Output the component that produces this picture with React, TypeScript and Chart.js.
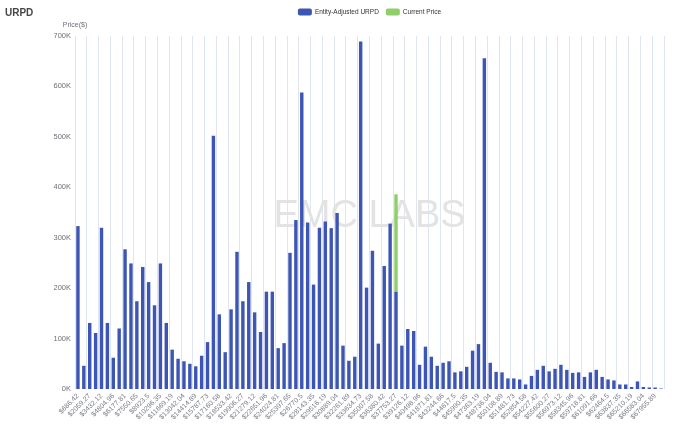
import React, { useEffect, useRef } from 'react';
import { Chart, registerables } from 'chart.js';

Chart.register(...registerables);

const chartTitle = 'URPD';
const yAxisName = 'Price($)';
const watermarkText = 'EMC LABS';
const seriesNames = ['Entity-Adjusted URPD', 'Current Price'];

const priceLabels = [
  '$686.42', '$1372.85', '$2059.27', '$2745.69', '$3432.12', '$4118.54', '$4804.96', '$5491.38', '$6177.81', '$6864.23',
  '$7550.65', '$8237.08', '$8923.5', '$9609.92', '$10296.35', '$10982.77', '$11669.19', '$12355.62', '$13042.04', '$13728.46',
  '$14414.89', '$15101.31', '$15787.73', '$16474.15', '$17160.58', '$17847', '$18533.42', '$19219.85', '$19906.27', '$20592.69',
  '$21279.12', '$21965.54', '$22651.96', '$23338.39', '$24024.81', '$24711.23', '$25397.65', '$26084.08', '$26770.5', '$27456.92',
  '$28143.35', '$28829.77', '$29516.19', '$30202.62', '$30889.04', '$31575.46', '$32261.89', '$32948.31', '$33634.73', '$34321.16',
  '$35007.58', '$35694', '$36380.42', '$37066.85', '$37753.27', '$38439.69', '$39126.12', '$39812.54', '$40498.96', '$41185.39',
  '$41871.81', '$42558.23', '$43244.66', '$43931.08', '$44617.5', '$45303.92', '$45990.35', '$46676.77', '$47363.19', '$48049.62',
  '$48736.04', '$49422.46', '$50108.89', '$50795.31', '$51481.73', '$52168.16', '$52854.58', '$53541', '$54227.42', '$54913.85',
  '$55600.27', '$56286.69', '$56973.12', '$57659.54', '$58345.96', '$59032.39', '$59718.81', '$60405.23', '$61091.66', '$61778.08',
  '$62464.5', '$63150.93', '$63837.35', '$64523.77', '$65210.19', '$65896.62', '$66583.04', '$67269.46', '$67955.89', '$68642.31',
];

const urpdValues = [
  323000, 46000, 131000, 111000, 320000, 131000, 62000, 120000, 277000, 249000,
  174000, 242000, 212000, 166000, 249000, 131000, 78000, 60000, 55000, 50000,
  45000, 66000, 93000, 502000, 148000, 73000, 158000, 272000, 174000, 212000,
  152000, 113000, 193000, 193000, 81000, 91000, 270000, 335000, 588000, 330000,
  207000, 320000, 332000, 319000, 349000, 86000, 56000, 64000, 689000, 201000,
  274000, 90000, 244000, 328000, 193000, 86000, 119000, 115000, 48000, 84000,
  64000, 46000, 52000, 55000, 33000, 35000, 44000, 76000, 89000, 656000,
  52000, 34000, 33000, 21000, 21000, 19000, 9000, 26000, 38000, 46000,
  35000, 40000, 48000, 38000, 32000, 33000, 24000, 33000, 38000, 24000,
  19000, 17000, 9000, 9000, 4000, 15000, 4000, 3000, 3000, 1000,
];

const currentPriceIndex = 54;
const currentPriceValue = 193000;

const yMax = 700000;
const yStep = 100000;

const BLUE = '#3d56b5';
const GREEN = '#8fcf6b';
const FONT = '"Liberation Sans", Arial, Helvetica, sans-serif';

const decorPlugin = {
  id: 'decor',
  beforeDatasetsDraw(chart: any) {
    const { ctx, chartArea } = chart;
    ctx.save();
    ctx.font = `38px ${FONT}`;
    ctx.fillStyle = '#e3e3e3';
    ctx.textAlign = 'center';
    ctx.textBaseline = 'middle';
    ctx.fillText(watermarkText, (chartArea.left + chartArea.right) / 2, (chartArea.top + chartArea.bottom) / 2 + 4);
    ctx.restore();
  },
  afterDraw(chart: any) {
    const { ctx, chartArea } = chart;
    ctx.save();
    ctx.font = `bold 10px ${FONT}`;
    ctx.fillStyle = '#464646';
    ctx.textAlign = 'left';
    ctx.textBaseline = 'middle';
    ctx.fillText(chartTitle, 5, 13);
    ctx.font = `7px ${FONT}`;
    ctx.fillStyle = '#6E7079';
    ctx.textAlign = 'center';
    ctx.fillText(yAxisName, chartArea.left, 25);
    const fs = 6.5;
    ctx.font = `${fs}px ${FONT}`;
    const rectW = 14, rectH = 7, gap = 3, itemGap = 7;
    const items = chart.data.datasets.map((d: any) => ({ label: d.label, color: d.backgroundColor }));
    const widths = items.map((it: any) => rectW + gap + ctx.measureText(it.label).width);
    const total = widths.reduce((a: number, b: number) => a + b, 0) + itemGap * (items.length - 1);
    let x = (chartArea.left + chartArea.right) / 2 - total / 2;
    const cy = 12;
    items.forEach((it: any, i: number) => {
      ctx.fillStyle = it.color;
      ctx.beginPath();
      if (ctx.roundRect) ctx.roundRect(x, cy - rectH / 2, rectW, rectH, 2);
      else ctx.rect(x, cy - rectH / 2, rectW, rectH);
      ctx.fill();
      ctx.fillStyle = '#333';
      ctx.textAlign = 'left';
      ctx.textBaseline = 'middle';
      ctx.fillText(it.label, x + rectW + gap, cy + 0.5);
      x += widths[i] + itemGap;
    });
    ctx.restore();
  },
};

export default function App() {
  const ref = useRef<HTMLCanvasElement | null>(null);

  useEffect(() => {
    if (!ref.current) return;
    const currentData = urpdValues.map((_, i) => (i === currentPriceIndex ? currentPriceValue : null));
    const chart = new Chart(ref.current, {
      type: 'bar',
      data: {
        labels: priceLabels,
        datasets: [
          {
            label: seriesNames[0],
            data: urpdValues,
            backgroundColor: BLUE,
            barPercentage: 0.58,
            categoryPercentage: 1,
          },
          {
            label: seriesNames[1],
            data: currentData as any,
            backgroundColor: GREEN,
            barPercentage: 0.58,
            categoryPercentage: 1,
          },
        ],
      },
      options: {
        responsive: false,
        animation: false,
        devicePixelRatio: 1,
        layout: { padding: { left: 0, right: 36, top: 36, bottom: 0 } },
        plugins: {
          legend: { display: false },
          title: { display: false },
          tooltip: { enabled: false },
        },
        scales: {
          x: {
            stacked: true,
            afterFit: (scale: any) => { scale.height = 35; },
            grid: {
              drawTicks: false,
              offset: true,
              color: (ctx: any) => (ctx.index === undefined || ctx.index % 2 === 0 ? '#E0E6F1' : 'rgba(0,0,0,0)'),
              lineWidth: 1,
            },
            border: { display: false },
            ticks: {
              autoSkip: false,
              maxRotation: 45,
              minRotation: 45,
              padding: 3,
              color: '#7a7d86',
              font: { size: 7, family: FONT },
              callback: (_v: any, i: number) => (i % 2 === 0 ? priceLabels[i] : ''),
            },
          },
          y: {
            stacked: true,
            min: 0,
            max: yMax,
            afterFit: (scale: any) => { scale.width = 75; },
            grid: { display: false, drawTicks: false },
            border: { display: false },
            ticks: {
              stepSize: yStep,
              padding: 4,
              color: '#6E7079',
              font: { size: 7.5, family: FONT },
              callback: (v: any) => `${Number(v) / 1000}K`,
            },
          },
        },
      },
      plugins: [decorPlugin],
    });
    return () => chart.destroy();
  }, []);

  return (
    <div style={{ position: 'fixed', left: 0, top: 0, width: 700, height: 424, background: '#fff' }}>
      <canvas ref={ref} width={700} height={424} />
    </div>
  );
}
